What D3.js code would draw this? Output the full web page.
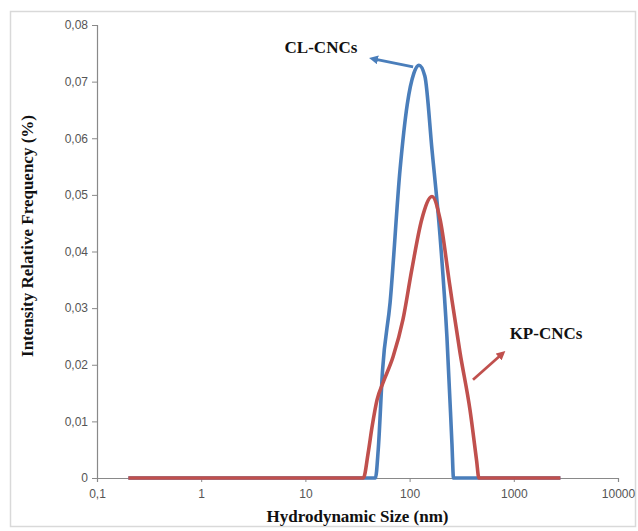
<!DOCTYPE html>
<html>
<head>
<meta charset="utf-8">
<script src="https://cdn.jsdelivr.net/npm/d3@7"></script>
<style>
  html, body { margin: 0; padding: 0; background: #fff; }
  svg { display: block; }
</style>
</head>
<body>
<div id="chart"></div>
<script>
// sizes (nm) and relative frequency
const clSize  = [0.2, 1, 10, 40, 47, 50, 55, 65, 81, 95, 110, 123, 140, 164, 196, 228, 255, 264, 300, 1000, 2800];
const clValue = [0, 0, 0, 0, 0, 0.005, 0.019, 0.031, 0.0545, 0.066, 0.0715, 0.0729, 0.071, 0.058, 0.0427, 0.025, 0.006, 0, 0, 0, 0];

const kpSize  = [0.2, 1, 10, 36, 40, 43.6, 48.7, 55.5, 69.4, 86.4, 105, 131, 164, 196, 244, 305, 380, 440, 462, 1000, 2800];
const kpValue = [0, 0, 0, 0, 0.0044, 0.009, 0.0138, 0.0168, 0.0214, 0.028, 0.0368, 0.0457, 0.0497, 0.0457, 0.0338, 0.0221, 0.012, 0.003, 0, 0, 0];

const xTicks = [0.1, 1, 10, 100, 1000, 10000];
const yTicks = [0, 0.01, 0.02, 0.03, 0.04, 0.05, 0.06, 0.07, 0.08];

const W = 638, H = 531;
const margin = {left: 97, right: 20, top: 25, bottom: 53};

const svg = d3.select("#chart").append("svg")
    .attr("width", W)
    .attr("height", H);

// outer frame
svg.append("rect")
    .attr("x", 10.5).attr("y", 11.5)
    .attr("width", 625).attr("height", 515)
    .attr("fill", "none")
    .attr("stroke", "#d9d9d9")
    .attr("stroke-width", 1.5);

const x = d3.scaleLog().domain([0.1, 10000]).range([margin.left, W - margin.right]);
const y = d3.scaleLinear().domain([0, 0.08]).range([H - margin.bottom, margin.top]);

const fmtY = d => d === 0 ? "0" : d.toFixed(2).replace(".", ",");
const fmtX = d => d < 1 ? String(d).replace(".", ",") : String(d);

// y axis
const yAxis = svg.append("g")
    .attr("transform", `translate(${margin.left},0)`)
    .call(d3.axisLeft(y).tickValues(yTicks).tickFormat(fmtY).tickSize(5).tickPadding(4));

// x axis
const xAxis = svg.append("g")
    .attr("transform", `translate(0,${H - margin.bottom})`)
    .call(d3.axisBottom(x).tickValues(xTicks).tickFormat(fmtX).tickSize(4).tickPadding(7));

[yAxis, xAxis].forEach(g => {
    g.select(".domain").attr("stroke", "#898989").attr("stroke-width", 1.2);
    g.selectAll(".tick line").attr("stroke", "#898989");
    g.selectAll(".tick text")
        .attr("fill", "#555")
        .style("font-family", "'Liberation Sans', Arial, sans-serif")
        .style("font-size", "12px");
});

// series
const line = d3.line()
    .x(d => x(d[0]))
    .y(d => y(d[1]))
    .curve(d3.curveMonotoneX);

const series = [
    {name: "CL-CNCs", color: "#4a7ebb", pts: d3.zip(clSize, clValue)},
    {name: "KP-CNCs", color: "#c0504d", pts: d3.zip(kpSize, kpValue)}
];

svg.append("g").selectAll("path")
    .data(series)
    .join("path")
    .attr("d", d => line(d.pts))
    .attr("fill", "none")
    .attr("stroke", d => d.color)
    .attr("stroke-width", 3.6)
    .attr("stroke-linejoin", "round");

// arrows + labels
const defs = svg.append("defs");
series.forEach((s, i) => {
    defs.append("marker")
        .attr("id", "head" + i)
        .attr("viewBox", "0 0 10 10")
        .attr("refX", 5).attr("refY", 5)
        .attr("markerWidth", 3.2).attr("markerHeight", 3.2)
        .attr("orient", "auto")
        .append("path")
        .attr("d", "M0,0 L10,5 L0,10 Z")
        .attr("fill", s.color);
});

const notes = [
    {text: "CL-CNCs", lx: 14.1, ly: 0.0758, from: [108, 0.0726], to: [45, 0.0740], color: "#4a7ebb", head: "head0"},
    {text: "KP-CNCs", lx: 2037, ly: 0.0253, from: [406, 0.01735], to: [770, 0.0219], color: "#c0504d", head: "head1"}
];

const serif = "'Liberation Serif', 'Times New Roman', serif";

notes.forEach(n => {
    svg.append("line")
        .attr("x1", x(n.from[0])).attr("y1", y(n.from[1]))
        .attr("x2", x(n.to[0])).attr("y2", y(n.to[1]))
        .attr("stroke", n.color)
        .attr("stroke-width", 2.8)
        .attr("marker-end", `url(#${n.head})`);
    svg.append("text")
        .attr("x", x(n.lx)).attr("y", y(n.ly))
        .attr("text-anchor", "middle")
        .attr("dominant-baseline", "middle")
        .style("font-family", serif)
        .style("font-weight", "bold")
        .style("font-size", "17px")
        .attr("fill", "#111")
        .text(n.text);
});

// axis titles
svg.append("text")
    .attr("transform", "translate(29,236) rotate(-90)")
    .attr("text-anchor", "middle")
    .attr("dominant-baseline", "middle")
    .style("font-family", serif)
    .style("font-weight", "bold")
    .style("font-size", "17px")
    .attr("fill", "#111")
    .text("Intensity Relative  Frequency (%)");

svg.append("text")
    .attr("x", (margin.left + W - margin.right) / 2)
    .attr("y", 518)
    .attr("text-anchor", "middle")
    .attr("dominant-baseline", "middle")
    .style("font-family", serif)
    .style("font-weight", "bold")
    .style("font-size", "17px")
    .attr("fill", "#111")
    .text("Hydrodynamic  Size (nm)");
</script>
</body>
</html>
